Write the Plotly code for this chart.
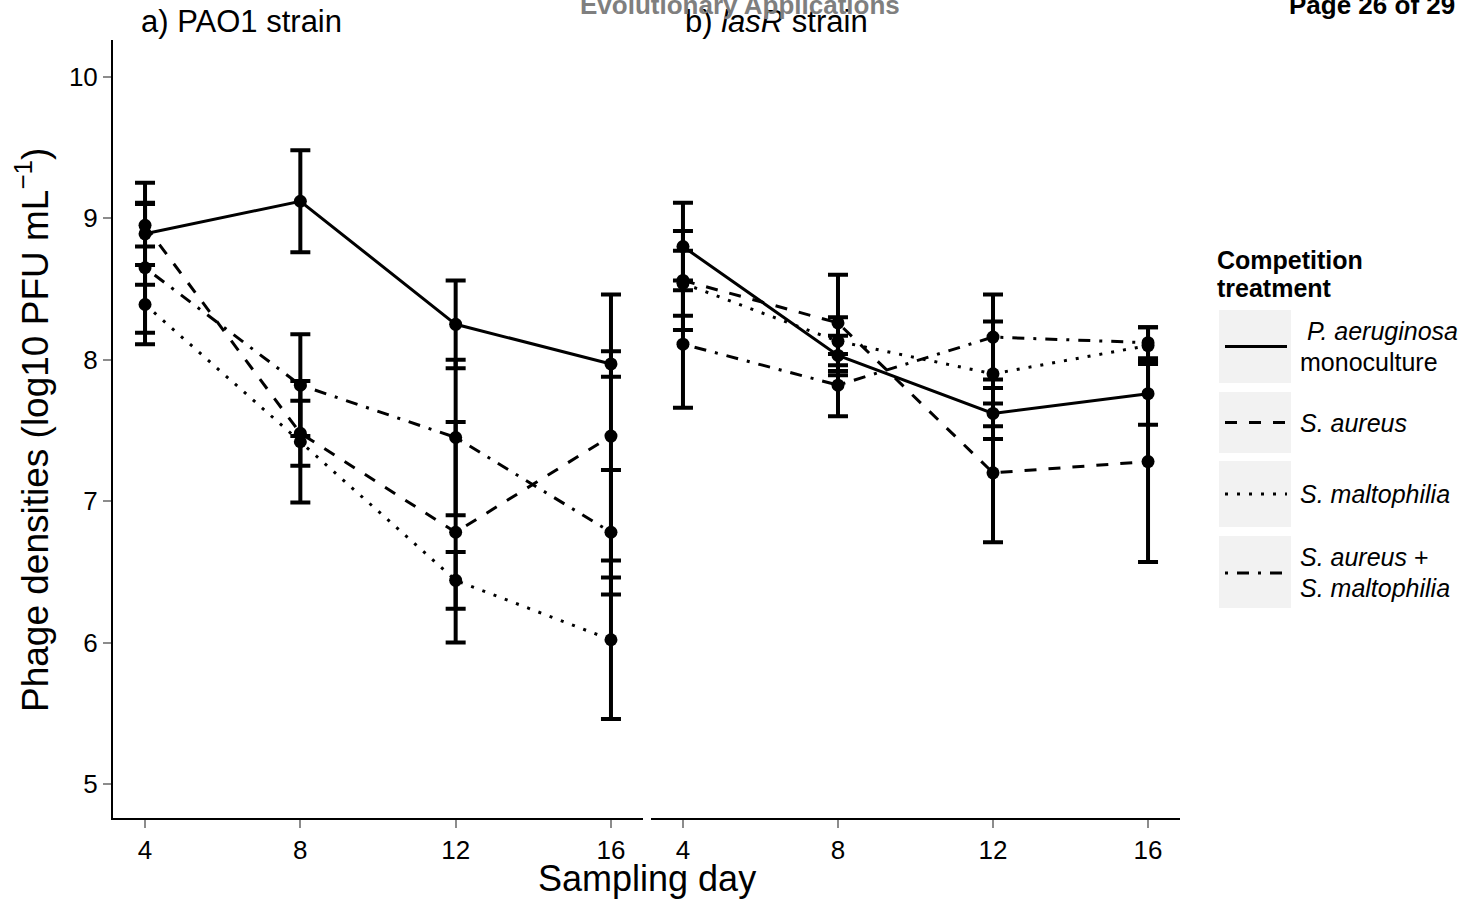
import plotly.graph_objects as go

W, H = 1477, 901

# ---------------- data ----------------
days = [4, 8, 12, 16]
legend_lines = [["&nbsp;<i>P. aeruginosa</i>", "monoculture"], ["<i>S. aureus</i>"],
                ["<i>S. maltophilia</i>"], ["<i>S. aureus</i> +", "<i>S. maltophilia</i>"]]

# Panel a) PAO1 strain
pao1_mono = [8.89, 9.12, 8.25, 7.97]
pao1_mono_se = [0.36, 0.36, 0.31, 0.09]
pao1_aureus = [8.95, 7.48, 6.78, 7.46]
pao1_aureus_se = [0.15, 0.23, 0.78, 1.00]
pao1_malto = [8.39, 7.42, 6.44, 6.02]
pao1_malto_se = [0.28, 0.43, 0.20, 0.56]
pao1_both = [8.65, 7.82, 7.45, 6.78]
pao1_both_se = [0.46, 0.36, 0.55, 0.44]

# Panel b) lasR strain
lasr_mono = [8.80, 8.03, 7.62, 7.76]
lasr_mono_se = [0.31, 0.14, 0.18, 0.22]
lasr_aureus = [8.56, 8.26, 7.20, 7.28]
lasr_aureus_se = [0.35, 0.34, 0.49, 0.71]
lasr_malto = [8.54, 8.13, 7.90, 8.10]
lasr_malto_se = [0.23, 0.17, 0.37, 0.13]
lasr_both = [8.11, 7.82, 8.16, 8.12]
lasr_both_se = [0.45, 0.22, 0.30, 0.11]

y_ticks = [5, 6, 7, 8, 9, 10]
x_ticks = [4, 8, 12, 16]

# ---------------- style ----------------
FONT = "Liberation Sans, Arial, Helvetica, sans-serif"
dashes = ["solid", "12px,12px", "3px,9px", "3px,9px,12px,9px"]

def px(x):
    return x / W

def py(y):
    return 1 - y / H

fig = go.Figure()

panels = [
    ("x", "y", [(pao1_mono, pao1_mono_se), (pao1_aureus, pao1_aureus_se),
                (pao1_malto, pao1_malto_se), (pao1_both, pao1_both_se)]),
    ("x2", "y2", [(lasr_mono, lasr_mono_se), (lasr_aureus, lasr_aureus_se),
                  (lasr_malto, lasr_malto_se), (lasr_both, lasr_both_se)]),
]
for xa, ya, data in panels:
    for i, (vals, se) in enumerate(data):
        fig.add_trace(go.Scatter(
            x=days, y=vals, xaxis=xa, yaxis=ya, mode="lines+markers",
            line=dict(color="black", width=3, dash=dashes[i]),
            marker=dict(color="black", size=13),
            error_y=dict(type="data", array=se, visible=True, color="black",
                         thickness=4, width=10),
            showlegend=False, hoverinfo="skip"))

tickfont = dict(size=26, color="black", family=FONT)
ax_common = dict(range=[3.175, 16.825], tickvals=x_ticks, showgrid=False, zeroline=False,
                 showline=True, linecolor="black", linewidth=2, ticks="outside",
                 tickcolor="#8c8c8c", ticklen=8, tickwidth=2, tickfont=tickfont)
y_dom = [py(818), py(40)]
fig.update_layout(
    width=W, height=H, autosize=False,
    margin=dict(l=0, r=0, t=0, b=0),
    paper_bgcolor="white", plot_bgcolor="white",
    font=dict(family=FONT, color="black"),
    xaxis=dict(domain=[px(113), px(643)], anchor="y", **ax_common),
    xaxis2=dict(domain=[px(651), px(1180)], anchor="y2", **ax_common),
    yaxis=dict(domain=y_dom, anchor="x", range=[4.76, 10.26], tickvals=y_ticks,
               showgrid=False, zeroline=False, showline=True, linecolor="black",
               linewidth=2, ticks="outside", tickcolor="#8c8c8c", ticklen=8, tickwidth=2,
               tickfont=tickfont),
    yaxis2=dict(domain=y_dom, anchor="x2", range=[4.76, 10.26], matches="y",
                showgrid=False, zeroline=False, showline=False, showticklabels=False,
                ticks=""),
)

ann = []
ann.append(dict(text="Sampling day", x=px(647), y=py(878), xref="paper", yref="paper",
                showarrow=False, font=dict(size=36), xanchor="center", yanchor="middle"))
ann.append(dict(text="Phage densities (log10 PFU mL<sup>−1</sup>)", x=px(33), y=py(430),
                xref="paper", yref="paper", showarrow=False, textangle=-90,
                font=dict(size=37), xanchor="center", yanchor="middle"))
ann.append(dict(text="a) PAO1 strain", x=px(139), y=py(21), xref="paper", yref="paper",
                showarrow=False, font=dict(size=31), xanchor="left", yanchor="middle"))
ann.append(dict(text="b) <i>lasR</i> strain", x=px(683), y=py(21), xref="paper", yref="paper",
                showarrow=False, font=dict(size=31), xanchor="left", yanchor="middle"))
ann.append(dict(text="<b>Evolutionary Applications</b>", x=px(740), y=py(5), xref="paper",
                yref="paper", showarrow=False, font=dict(size=26, color="#7f7f7f"),
                xanchor="center", yanchor="middle"))
ann.append(dict(text="<b>Page 26 of 29</b>", x=px(1457), y=py(5), xref="paper",
                yref="paper", showarrow=False, font=dict(size=26, color="black"),
                xanchor="right", yanchor="middle"))
ann.append(dict(text="<b>Competition</b>", x=px(1215), y=py(260),
                xref="paper", yref="paper", showarrow=False, font=dict(size=25),
                xanchor="left", yanchor="middle"))
ann.append(dict(text="<b>treatment</b>", x=px(1215), y=py(288),
                xref="paper", yref="paper", showarrow=False, font=dict(size=25),
                xanchor="left", yanchor="middle"))

# legend keys (manual, ggplot style)
boxes = [(310, 383), (392, 453), (461, 527), (536, 608)]
shapes = []
for i, (y0, y1) in enumerate(boxes):
    shapes.append(dict(type="rect", xref="paper", yref="paper", x0=px(1219), x1=px(1291),
                       y0=py(y1), y1=py(y0), fillcolor="#f2f2f2", line=dict(width=0),
                       layer="below"))
    ym = (y0 + y1) / 2
    if i == 3:
        ym = 573
    shapes.append(dict(type="line", xref="paper", yref="paper", x0=px(1225), x1=px(1287),
                       y0=py(ym), y1=py(ym), line=dict(color="black", width=3, dash=dashes[i])))
    lines = legend_lines[i]
    if len(lines) == 1:
        ys = [(y0 + y1) / 2]
    else:
        c = (y0 + y1) / 2
        ys = [c - 15.5, c + 15.5]
    for t, yy in zip(lines, ys):
        ann.append(dict(text=t, x=px(1298), y=py(yy), xref="paper", yref="paper",
                        showarrow=False, font=dict(size=25), xanchor="left",
                        yanchor="middle", align="left"))

fig.update_layout(annotations=ann, shapes=shapes)
fig.write_html("out.html")
